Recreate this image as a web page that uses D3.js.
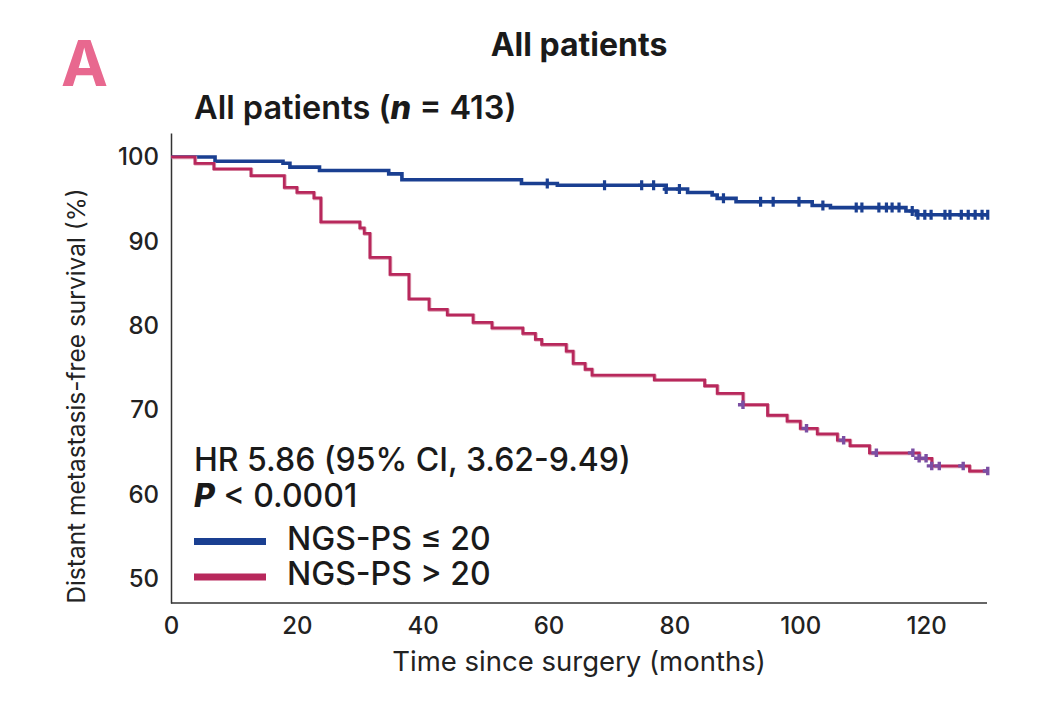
<!DOCTYPE html>
<html>
<head>
<meta charset="utf-8">
<script src="https://cdn.jsdelivr.net/npm/d3@7/dist/d3.min.js"></script>
<style>
  html, body { margin: 0; padding: 0; background: #fff; }
  svg { display: block; font-family: Inter, "Noto Sans", sans-serif; }
</style>
</head>
<body>
<svg id="chart" width="1055" height="705"></svg>
<script>
// ---- Data ----
const xTicks = [0, 20, 40, 60, 80, 100, 120];
const yTicks = [50, 60, 70, 80, 90, 100];

// NGS-PS <= 20 : step times (months) and survival (%) after each step
const lowTimes = [0, 7.0, 17.8, 18.9, 23.6, 34.6, 36.7, 55.7, 61.4, 78.7, 82.1, 86.0, 86.8, 89.8, 101.9, 104.8, 116.8, 118.5, 129.8];
const lowSurv  = [100, 99.5, 99.25, 98.8, 98.4, 98.0, 97.3, 96.85, 96.65, 96.2, 95.8, 95.5, 95.1, 94.7, 94.25, 94.0, 93.6, 93.15, 93.15];
const lowCensor = [59.8, 68.9, 74.8, 76.7, 78.7, 80.8, 87.8, 93.7, 95.7, 99.8, 103.6, 108.9, 109.8, 112.5, 113.7, 114.6, 115.7, 117.8, 118.7, 119.8, 120.8, 123.0, 123.8, 125.6, 126.7, 127.8, 128.9, 129.8];

// NGS-PS > 20
const highTimes = [0, 3.8, 6.8, 12.7, 18.0, 20.0, 22.7, 23.8, 30.0, 30.7, 31.6, 34.8, 37.8, 41.0, 43.9, 48.0, 51.0, 55.9, 57.9, 58.9, 62.8, 63.9, 65.8, 66.9, 76.8, 84.8, 86.8, 90.9, 94.8, 97.9, 100.0, 102.7, 105.9, 107.9, 111.0, 118.9, 120.9, 126.9, 129.8];
const highSurv  = [100, 99.25, 98.6, 97.8, 96.4, 95.8, 95.15, 92.3, 91.6, 90.95, 88.1, 86.1, 83.2, 81.95, 81.3, 80.4, 79.75, 79.1, 78.4, 77.8, 77.0, 75.55, 74.85, 74.15, 73.6, 72.9, 72.0, 70.65, 69.4, 68.7, 67.85, 67.2, 66.45, 65.8, 64.95, 64.3, 63.4, 62.8, 62.8];
const highCensor = [90.9, 101.0, 106.9, 112.1, 117.9, 118.9, 120.0, 120.9, 122.1, 125.9, 129.8];

const seriesNames = ["NGS-PS \u2264 20", "NGS-PS > 20"];
const colors = { low: "#1a3f91", high: "#b8285c", highCensor: "#7b4fa3" };

// ---- Layout ----
const svg = d3.select("#chart");
const x = d3.scaleLinear().domain([0, 130]).range([171, 989]);
const y = d3.scaleLinear().domain([47.16, 102.84]).range([603, 133]);

function survAt(times, surv, t) {
  let v = surv[0];
  for (let i = 0; i < times.length; i++) { if (times[i] <= t + 1e-9) v = surv[i]; }
  return v;
}

// Axes
const xAxis = svg.append("g").attr("transform", "translate(0,603)")
  .call(d3.axisBottom(x).tickValues(xTicks).tickSize(0).tickSizeOuter(0).tickPadding(14));
xAxis.select(".domain").attr("stroke", "#333").attr("stroke-width", 1.5)
  .attr("d", `M${x(0)},0H987`);
xAxis.selectAll("text").attr("font-size", 24).attr("font-weight", 500).attr("fill", "#222").attr("font-family", "Inter");

const yAxis = svg.append("g").attr("transform", "translate(171,0)")
  .call(d3.axisLeft(y).tickValues(yTicks).tickSize(0).tickSizeOuter(0).tickPadding(12));
yAxis.select(".domain").attr("stroke", "#333").attr("stroke-width", 1.5);
yAxis.selectAll("text").attr("font-size", 24).attr("font-weight", 500).attr("fill", "#222").attr("font-family", "Inter");

// Curves
const line = d3.line().x(d => x(d[0])).y(d => y(d[1])).curve(d3.curveStepAfter);
const lowData = lowTimes.map((t, i) => [t, lowSurv[i]]);
const highData = highTimes.map((t, i) => [t, highSurv[i]]);

function plus(g, data, color, h, w, sw) {
  g.selectAll("path.c").data(data).join("path")
    .attr("class", "c")
    .attr("d", d => `M${x(d[0])},${y(d[1]) - h / 2}v${h}M${x(d[0]) - w / 2},${y(d[1])}h${w / 2}`)
    .attr("stroke", color).attr("stroke-width", sw).attr("fill", "none");
}

const gLow = svg.append("g");
gLow.append("path").datum(lowData).attr("d", line)
  .attr("fill", "none").attr("stroke", colors.low).attr("stroke-width", 3.6);
plus(gLow, lowCensor.map(t => [t, survAt(lowTimes, lowSurv, t)]), colors.low, 10, 7, 3.2);

const gHigh = svg.append("g");
gHigh.append("path").datum(highData).attr("d", line)
  .attr("fill", "none").attr("stroke", "#dc9cb0").attr("stroke-width", 3)
  .attr("transform", "translate(0.8,0.8)");
gHigh.append("path").datum(highData).attr("d", line)
  .attr("fill", "none").attr("stroke", colors.high).attr("stroke-width", 2.8);
plus(gHigh, highCensor.map(t => [t, survAt(highTimes, highSurv, t)]), colors.highCensor, 8.5, 10, 3.4);

// Texts
svg.append("text").attr("x", 61).attr("y", 86).text("A")
  .attr("font-size", 63).attr("font-weight", 700).attr("fill", "#e8688f");
svg.append("text").attr("x", 579).attr("y", 56).attr("text-anchor", "middle")
  .text("All patients").attr("font-size", 32).attr("font-weight", 700).attr("fill", "#1a1a1a");

const sub = svg.append("text").attr("x", 194).attr("y", 119)
  .attr("font-size", 32.5).attr("font-weight", 600).attr("fill", "#1a1a1a");
sub.append("tspan").text("All patients (");
sub.append("tspan").text("n").attr("font-style", "italic").attr("font-weight", 800);
sub.append("tspan").text(" = 413)");

svg.append("text").attr("x", 194).attr("y", 471).text("HR 5.86 (95% CI, 3.62-9.49)")
  .attr("font-size", 32).attr("font-weight", 500).attr("fill", "#1a1a1a");
const pT = svg.append("text").attr("x", 194).attr("y", 507)
  .attr("font-size", 32).attr("font-weight", 500).attr("fill", "#1a1a1a");
pT.append("tspan").text("P").attr("font-style", "italic").attr("font-weight", 800);
pT.append("tspan").text(" < 0.0001");

// Legend
const legY = [541.5, 577];
const legColors = [colors.low, colors.high];
seriesNames.forEach((name, i) => {
  svg.append("line").attr("x1", 194).attr("x2", 266).attr("y1", legY[i]).attr("y2", legY[i])
    .attr("stroke", legColors[i]).attr("stroke-width", 7);
  svg.append("text").attr("x", 287).attr("y", legY[i] + 8).text(name)
    .attr("font-size", 32).attr("font-weight", 500).attr("fill", "#1a1a1a");
});

// Axis titles
svg.append("text").attr("x", 579).attr("y", 671).attr("text-anchor", "middle")
  .text("Time since surgery (months)").attr("font-size", 27.5).attr("fill", "#222");
svg.append("text").attr("transform", "translate(85,396) rotate(-90)").attr("text-anchor", "middle")
  .text("Distant metastasis-free survival (%)").attr("font-size", 24.5).attr("fill", "#222");
</script>
</body>
</html>
